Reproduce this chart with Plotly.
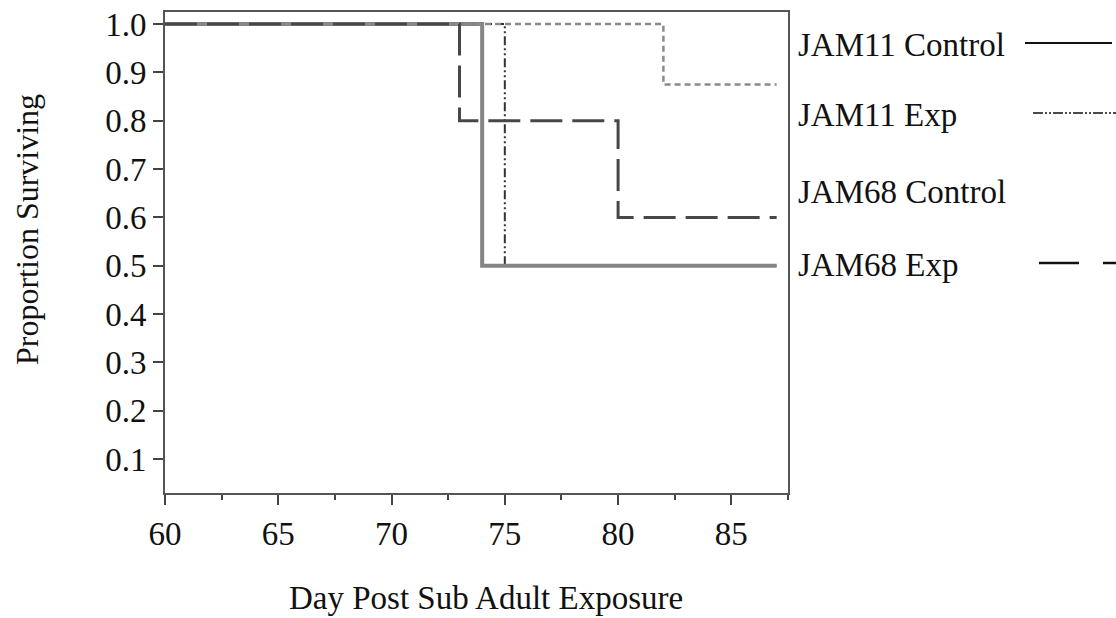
import plotly.graph_objects as go

# Kaplan-Meier style step data (day, proportion surviving)
jam11_control_days = [60, 74, 74, 87]
jam11_control_surv = [1.0, 1.0, 0.5, 0.5]

jam11_exp_days = [60, 75, 75, 87]
jam11_exp_surv = [1.0, 1.0, 0.5, 0.5]

jam68_control_days = [60, 82, 82, 87]
jam68_control_surv = [1.0, 1.0, 0.875, 0.875]

jam68_exp_days = [60, 73, 73, 80, 80, 87]
jam68_exp_surv = [1.0, 1.0, 0.8, 0.8, 0.6, 0.6]

series_names = ["JAM11 Control", "JAM11 Exp", "JAM68 Control", "JAM68 Exp"]
x_ticks = [60, 65, 70, 75, 80, 85]
y_ticks = [0.1, 0.2, 0.3, 0.4, 0.5, 0.6, 0.7, 0.8, 0.9, 1.0]

FONT = "Liberation Serif, Times New Roman, serif"
W, H = 1116, 618
L, R, T, B = 165, 328, 12, 125
PW, PH = W - L - R, H - T - B


def px_x(px):
    return (px - L) / PW


def px_y(py):
    return (H - B - py) / PH


fig = go.Figure()

fig.add_trace(go.Scatter(
    x=jam11_exp_days, y=jam11_exp_surv, mode="lines",
    name=series_names[1],
    line=dict(color="#333333", width=2, dash="9px,3px,2px,3px,2px,3px"),
))
fig.add_trace(go.Scatter(
    x=jam11_control_days, y=jam11_control_surv, mode="lines",
    name=series_names[0], line=dict(color="#858585", width=4, dash="solid"),
))
fig.add_trace(go.Scatter(
    x=jam68_control_days, y=jam68_control_surv, mode="lines",
    name=series_names[2], line=dict(color="#8a8a8a", width=2.5, dash="6px,4px"),
))
fig.add_trace(go.Scatter(
    x=jam68_exp_days, y=jam68_exp_surv, mode="lines",
    name=series_names[3], line=dict(color="#474747", width=3, dash="32px,10px"),
))

# Legend text with line samples to the right of each label
legend_rows = [43, 113, 190, 263]
legend_styles = [
    dict(x0=1025, x1=1112, dash="solid", width=2),
    dict(x0=1033, x1=1116, dash="10px,2px,2px,2px,2px,2px", width=1.5),
    None,
    dict(x0=1039, x1=1130, dash="40px,24px", width=2.5),
]
annotations = []
shapes = []
for name, yc, st in zip(series_names, legend_rows, legend_styles):
    annotations.append(dict(
        x=px_x(796), y=px_y(yc + 2), xref="paper", yref="paper",
        text=name, showarrow=False, xanchor="left", yanchor="middle",
        font=dict(family=FONT, size=33, color="#111111"),
    ))
    if st is not None:
        shapes.append(dict(
            type="line", xref="paper", yref="paper",
            x0=px_x(st["x0"]), x1=px_x(st["x1"]), y0=px_y(yc), y1=px_y(yc),
            line=dict(color="#111111", width=st["width"], dash=st["dash"]),
        ))

# Axis titles
annotations.append(dict(
    x=px_x(486), y=px_y(598), xref="paper", yref="paper",
    text="Day Post Sub Adult Exposure", showarrow=False,
    xanchor="center", yanchor="middle",
    font=dict(family=FONT, size=33, color="#111111"),
))
annotations.append(dict(
    x=px_x(27), y=px_y(230), xref="paper", yref="paper",
    text="Proportion Surviving", showarrow=False, textangle=-90,
    xanchor="center", yanchor="middle",
    font=dict(family=FONT, size=32, color="#111111"),
))

fig.update_layout(
    width=W, height=H,
    margin=dict(l=L, r=R, t=T, b=B, autoexpand=False),
    paper_bgcolor="white", plot_bgcolor="white",
    showlegend=False,
    annotations=annotations, shapes=shapes,
    font=dict(family=FONT, size=33, color="#111111"),
)
fig.update_xaxes(
    range=[60, 87.5], tickmode="array", tickvals=x_ticks,
    ticktext=[str(v) for v in x_ticks],
    ticks="outside", ticklen=10, tickwidth=2, tickcolor="#444444",
    minor=dict(ticks="outside", ticklen=5, tickwidth=2, tickcolor="#444444", dtick=2.5),
    showline=True, linecolor="#555555", linewidth=2, mirror=True,
    showgrid=False, zeroline=False,
    tickfont=dict(family=FONT, size=33, color="#111111"),
)
fig.update_yaxes(
    range=[0.03, 1.025], tickmode="array", tickvals=y_ticks,
    ticktext=[f"{v:.1f}" for v in y_ticks],
    ticks="outside", ticklen=10, tickwidth=2, tickcolor="#444444",
    showline=True, linecolor="#555555", linewidth=2, mirror=True,
    showgrid=False, zeroline=False,
    tickfont=dict(family=FONT, size=33, color="#111111"),
)

fig.write_html("out.html")
